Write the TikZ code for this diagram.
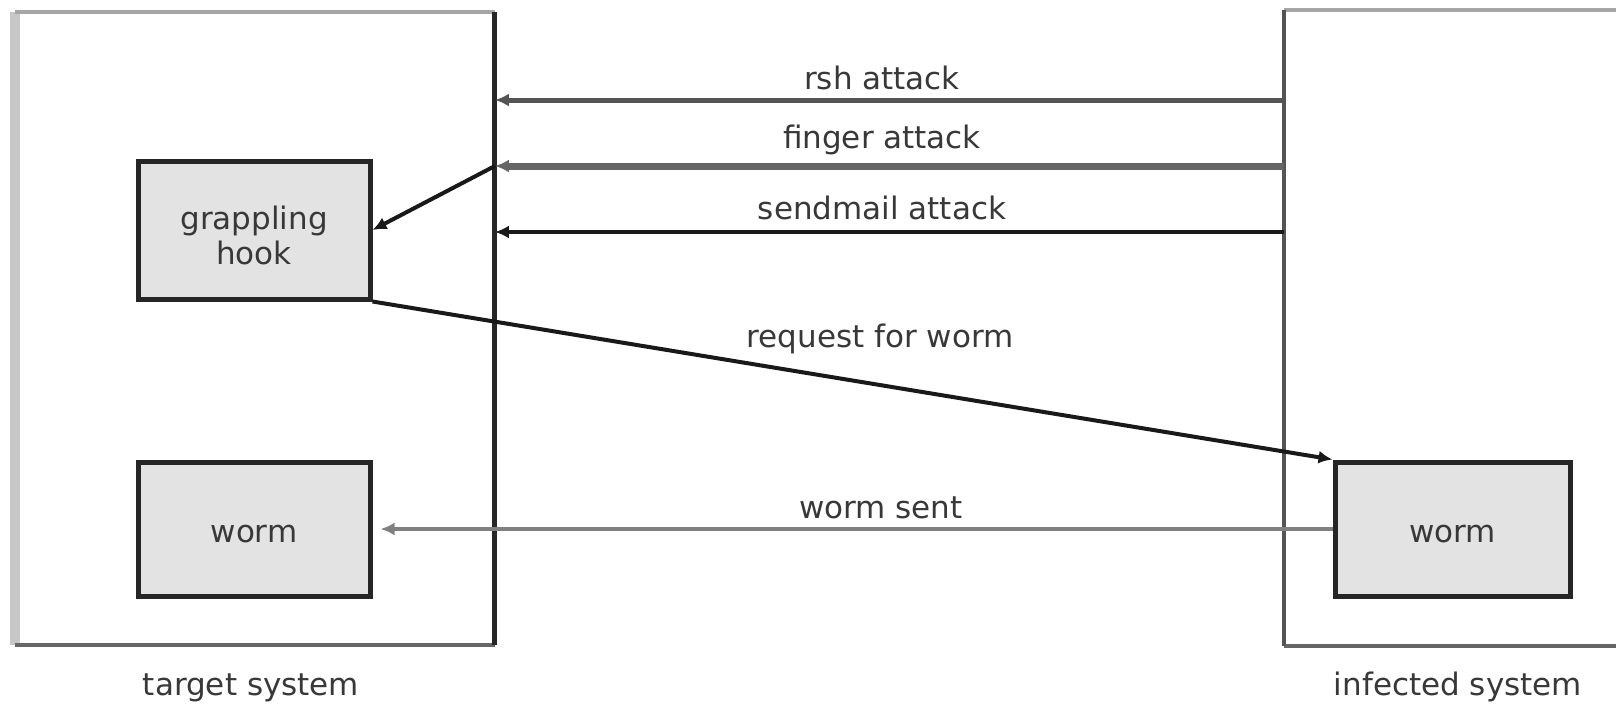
\documentclass[tikz,border=0pt]{standalone}
\usepackage{fontspec}
\setmainfont{DejaVu Sans}
\usetikzlibrary{arrows.meta,fit}
\newcommand{\lowered}[1]{\raisebox{0pt}[\dimexpr\height+5pt\relax][\depth]{#1}}
\begin{document}
\begin{tikzpicture}[x=0.5pt,y=-0.5pt,
  txt/.style={font=\fontsize{15.5}{17.5}\selectfont, text=black!78},
  lbl/.style={txt, inner sep=0pt, anchor=base},
  region/.style={inner sep=0pt, draw=none},
  box/.style={txt, inner sep=0pt, draw=black!85, line width=2.5pt, fill=black!11, align=center},
  tipped/.style={-{Latex[length=7pt,width=6.5pt]}},
  rshline/.style={tipped, line width=2.5pt, draw=black!67},
  fingerline/.style={tipped, line width=3.5pt, draw=black!60},
  sendline/.style={tipped, line width=2pt, draw=black!90},
  hookline/.style={tipped, line width=2pt, draw=black!90},
  sentline/.style={tipped, line width=2.2pt, draw=black!50, shorten >=4pt},
]
\useasboundingbox (0,0) rectangle (1616,707);
\clip (0,0) rectangle (1616,707);

% system regions
\node[region, fit={(15,12) (494.5,645)}] (target) {};
\node[region, fit={(1284,10) (1660,646)}] (infected) {};
\draw[line width=5pt, black!22] (target.north west) -- (target.south west);
\draw[line width=2pt, black!35] (target.north west) -- (target.north east);
\draw[line width=2pt, black!60] (target.south west) -- (target.south east);
\draw[line width=2.5pt, black!85] (target.north east) -- (target.south east);
\draw[line width=2pt, black!35] (infected.north west) -- (infected.north east);
\draw[line width=2pt, black!60] (infected.south west) -- (infected.south east);
\draw[line width=2pt, black!67] (infected.north west) -- (infected.south west);

% boxes
\node[box, minimum width=116pt, minimum height=69pt] (gh) at (254,230) {\lowered{grappling}\\hook};
\node[box, minimum width=116pt, minimum height=67pt] (wormL) at (254,529) {\lowered{worm}};
\node[box, minimum width=117.5pt, minimum height=67pt] (wormR) at (1452.5,529) {\lowered{worm}};

% attack arrows
\draw[rshline] (infected.west |- 0,100) -- (target.east |- 0,100);
\draw[fingerline] (infected.west |- 0,166) -- (target.east |- 0,166);
\draw[sendline] (infected.west |- 0,232) -- (target.east |- 0,232);
\coordinate (fingtip) at (target.east |- 0,166);
\draw[hookline] (fingtip) -- (gh.east);
\draw[hookline] (gh.south east) -- (wormR.north west);
\draw[sentline] (wormR.west) -- (wormL.east);

% labels
\node[lbl] (lrsh) at (882,89) {rsh attack};
\node[lbl] (lfinger) at (882,148) {finger attack};
\node[lbl] (lsend) at (882,219) {sendmail attack};
\node[lbl] (lreq) at (880,347) {request for worm};
\node[lbl] (lsent) at (881,518) {worm sent};
\node[lbl] (ltarget) at (251,695) {target system};
\node[lbl] (linfected) at (1458,695) {infected system};
\end{tikzpicture}
\end{document}
